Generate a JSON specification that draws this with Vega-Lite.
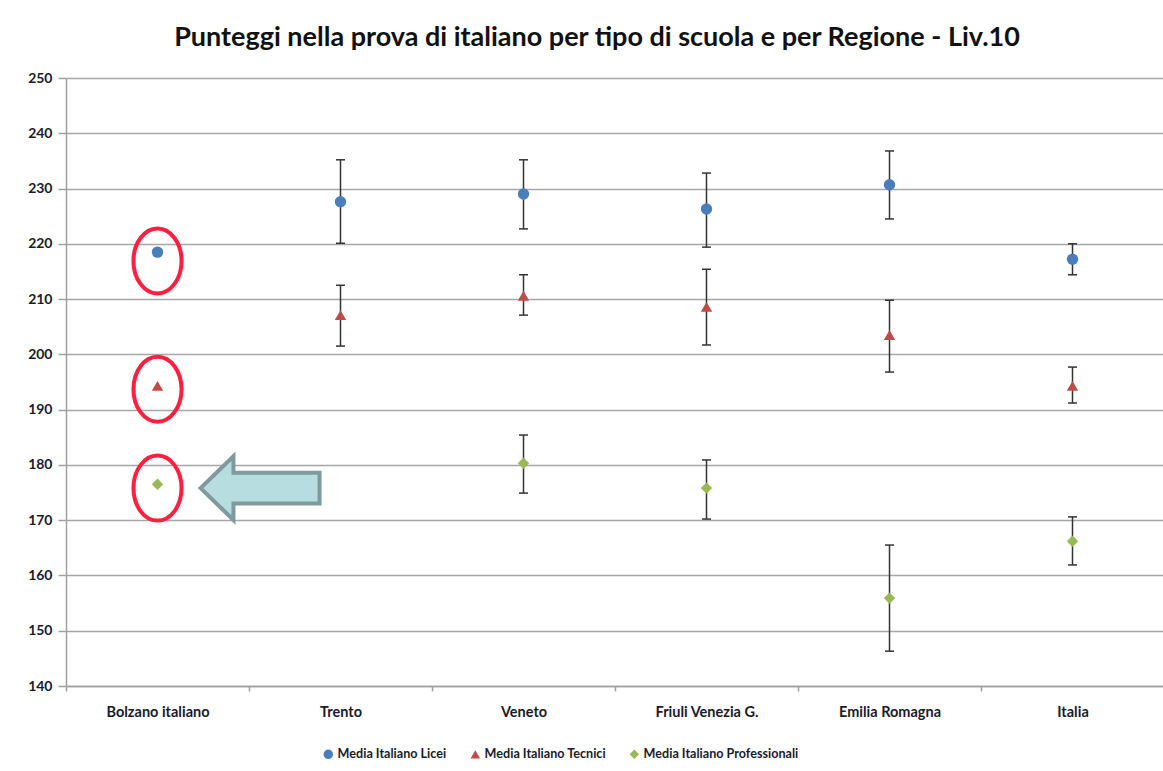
{
  "$schema": "https://vega.github.io/schema/vega-lite/v6.json",
  "autosize": "none",
  "width": 1098,
  "height": 608,
  "padding": {"left": 66, "top": 78, "right": 0, "bottom": 85},
  "background": "white",
  "title": {
    "text": "Punteggi nella prova di italiano per tipo di scuola e per Regione - Liv.10",
    "font": "Lato",
    "fontSize": 27,
    "fontWeight": "bold",
    "color": "#111111",
    "anchor": "middle",
    "dx": -18,
    "offset": 19
  },
  "datasets": {
    "scores": [
      {"regione": "Bolzano italiano", "tipo": "Media Italiano Licei", "media": 218.5, "low": null, "high": null},
      {"regione": "Trento", "tipo": "Media Italiano Licei", "media": 227.6, "low": 220.1, "high": 235.2},
      {"regione": "Veneto", "tipo": "Media Italiano Licei", "media": 229.0, "low": 222.7, "high": 235.2},
      {"regione": "Friuli Venezia G.", "tipo": "Media Italiano Licei", "media": 226.3, "low": 219.4, "high": 232.8},
      {"regione": "Emilia Romagna", "tipo": "Media Italiano Licei", "media": 230.7, "low": 224.5, "high": 236.8},
      {"regione": "Italia", "tipo": "Media Italiano Licei", "media": 217.2, "low": 214.4, "high": 220.0},
      {"regione": "Bolzano italiano", "tipo": "Media Italiano Tecnici", "media": 194.3, "low": null, "high": null},
      {"regione": "Trento", "tipo": "Media Italiano Tecnici", "media": 207.1, "low": 201.5, "high": 212.5},
      {"regione": "Veneto", "tipo": "Media Italiano Tecnici", "media": 210.6, "low": 207.1, "high": 214.4},
      {"regione": "Friuli Venezia G.", "tipo": "Media Italiano Tecnici", "media": 208.6, "low": 201.7, "high": 215.4},
      {"regione": "Emilia Romagna", "tipo": "Media Italiano Tecnici", "media": 203.5, "low": 196.8, "high": 209.8},
      {"regione": "Italia", "tipo": "Media Italiano Tecnici", "media": 194.3, "low": 191.2, "high": 197.7},
      {"regione": "Bolzano italiano", "tipo": "Media Italiano Professionali", "media": 176.5, "low": null, "high": null},
      {"regione": "Veneto", "tipo": "Media Italiano Professionali", "media": 180.3, "low": 174.9, "high": 185.4},
      {"regione": "Friuli Venezia G.", "tipo": "Media Italiano Professionali", "media": 175.8, "low": 170.2, "high": 180.9},
      {"regione": "Emilia Romagna", "tipo": "Media Italiano Professionali", "media": 155.9, "low": 146.3, "high": 165.5},
      {"regione": "Italia", "tipo": "Media Italiano Professionali", "media": 166.2, "low": 161.9, "high": 170.6}
    ],
    "ellipses": [
      {"regione": "Bolzano italiano", "valore": 216.9},
      {"regione": "Bolzano italiano", "valore": 193.7},
      {"regione": "Bolzano italiano", "valore": 175.8}
    ],
    "arrow": [
      {"regione": "Bolzano italiano", "valore": 175.8}
    ]
  },
  "encoding": {
    "x": {
      "field": "regione",
      "type": "nominal",
      "sort": ["Bolzano italiano", "Trento", "Veneto", "Friuli Venezia G.", "Emilia Romagna", "Italia"],
      "scale": {"type": "band", "paddingInner": 0, "paddingOuter": 0,
        "domain": ["Bolzano italiano", "Trento", "Veneto", "Friuli Venezia G.", "Emilia Romagna", "Italia"]},
      "axis": {
        "title": null,
        "labelAngle": 0,
        "tickBand": "extent",
        "tickSize": 5,
        "tickColor": "#a0a0a0",
        "tickWidth": 1.5,
        "domainColor": "#a0a0a0",
        "domainWidth": 1.5,
        "labelFont": "Lato",
        "labelFontSize": 14.5,
        "labelFontWeight": "bold",
        "labelColor": "#1a1a2a",
        "labelPadding": 14,
        "grid": false
      }
    }
  },
  "layer": [
    {
      "data": {"name": "scores"},
      "transform": [{"filter": "datum.low != null"}],
      "mark": {"type": "rule", "color": "#333333", "strokeWidth": 1.5},
      "encoding": {
        "y": {"field": "low", "type": "quantitative"},
        "y2": {"field": "high"}
      }
    },
    {
      "data": {"name": "scores"},
      "transform": [{"filter": "datum.low != null"}],
      "mark": {"type": "tick", "color": "#333333", "size": 9, "thickness": 1.5, "opacity": 1},
      "encoding": {
        "y": {"field": "low", "type": "quantitative"}
      }
    },
    {
      "data": {"name": "scores"},
      "transform": [{"filter": "datum.high != null"}],
      "mark": {"type": "tick", "color": "#333333", "size": 9, "thickness": 1.5, "opacity": 1},
      "encoding": {
        "y": {"field": "high", "type": "quantitative"}
      }
    },
    {
      "data": {"name": "scores"},
      "mark": {"type": "point", "filled": true, "opacity": 1, "size": 130},
      "encoding": {
        "y": {
          "field": "media",
          "type": "quantitative",
          "scale": {"domain": [140, 250], "nice": false, "zero": false},
          "axis": {
            "title": null,
            "values": [140, 150, 160, 170, 180, 190, 200, 210, 220, 230, 240, 250],
            "grid": true,
            "gridColor": "#a6a6a6",
            "gridWidth": 1.5,
            "domainColor": "#a0a0a0",
            "domainWidth": 1.5,
            "tickColor": "#a0a0a0",
            "tickWidth": 1.5,
            "tickSize": 8,
            "labelFont": "Lato",
            "labelFontSize": 14,
            "labelFontWeight": "bold",
            "labelColor": "#1a1a2a",
            "labelPadding": 6
          }
        },
        "color": {
          "field": "tipo",
          "type": "nominal",
          "scale": {
            "domain": ["Media Italiano Licei", "Media Italiano Tecnici", "Media Italiano Professionali"],
            "range": ["#4a7ebb", "#be4b48", "#98b954"]
          },
          "legend": {
            "title": null,
            "orient": "none",
            "direction": "horizontal",
            "legendX": 256,
            "legendY": 670,
            "labelFont": "Lato",
            "labelFontSize": 12.6,
            "labelFontWeight": "bold",
            "labelColor": "#1a1a2a",
            "symbolSize": 90,
            "labelOffset": 3,
            "columnPadding": 22
          }
        },
        "shape": {
          "field": "tipo",
          "type": "nominal",
          "scale": {
            "domain": ["Media Italiano Licei", "Media Italiano Tecnici", "Media Italiano Professionali"],
            "range": ["circle", "triangle-up", "diamond"]
          },
          "legend": null
        }
      }
    },
    {
      "data": {"name": "ellipses"},
      "mark": {
        "type": "point",
        "shape": "M -0.74 0 A 0.74 1 0 1 0 0.74 0 A 0.74 1 0 1 0 -0.74 0 Z",
        "size": 4225,
        "filled": false,
        "stroke": "#ff1f3f",
        "strokeWidth": 4,
        "opacity": 1
      },
      "encoding": {
        "y": {"field": "valore", "type": "quantitative"}
      }
    },
    {
      "data": {"name": "arrow"},
      "mark": {
        "type": "point",
        "shape": "M 1.23 0 L 2.17 -0.91 L 2.17 -0.44 L 4.63 -0.44 L 4.63 0.44 L 2.17 0.44 L 2.17 0.91 Z",
        "size": 4900,
        "filled": true,
        "fill": "#b7dde0",
        "stroke": "#7f9a9c",
        "strokeWidth": 4,
        "opacity": 1,
        "fillOpacity": 1
      },
      "encoding": {
        "y": {"field": "valore", "type": "quantitative"}
      }
    }
  ],
  "config": {
    "view": {"stroke": null}
  }
}
